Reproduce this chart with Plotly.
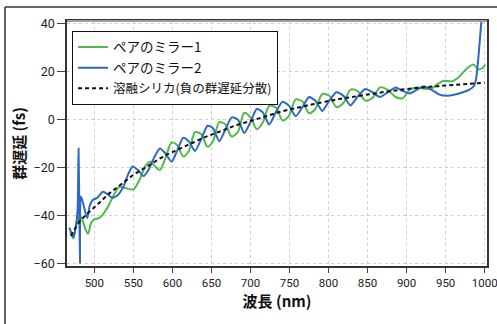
import plotly.graph_objects as go

# ---- data ----
silica_wl = [470, 480, 490, 500, 510, 520, 530, 540, 550, 560, 570, 580, 590, 600,
             620, 640, 660, 680, 700, 720, 740, 760, 780, 800, 820, 840, 860, 880,
             900, 920, 940, 960, 980, 1000]
silica_gd = [-48.5, -43, -39.5, -36.5, -33.5, -30.5, -28, -25.5, -23, -21, -19, -17, -15, -13.5,
             -10.5, -7.5, -5, -2.5, -0.5, 1.5, 3.5, 5, 6.5, 7.8, 9, 10, 11, 12,
             12.8, 13.5, 14, 14.5, 15, 15.5]

mirror2_wl = [468, 471, 473.5, 476, 478.5, 479.8, 480.8, 481.6, 482.6, 485, 488, 491, 494, 498,
              504, 511, 517, 523, 530, 537, 543, 549, 556, 563, 570, 577, 584, 591, 599,
              606, 614, 621, 629, 637, 645, 652, 660, 668, 676, 684, 692, 700, 708, 716,
              724, 733, 741, 749, 758, 767, 775, 783, 792, 801, 810, 819, 828, 837, 847,
              856, 866, 876, 886, 895, 904, 913, 922, 932, 942, 952, 962, 972, 980, 986,
              989, 992, 995, 997]
mirror2_gd = [-45, -47.5, -49, -45, -38, -12, -38, -60, -32, -34, -38, -41, -36, -33.5,
              -32.5, -30, -31, -32.5, -31.5, -28, -23, -19.5, -21, -23.5, -20.5, -15.5, -12, -14, -17.5,
              -13, -7.5, -9, -13, -8, -2.5, -3.5, -9, -4, 1, 0, -5.5, -1, 4.5, 3,
              -2, 3.5, 7.5, 6, 1.5, 5.5, 9.5, 8, 3.7, 8, 11.5, 10, 6, 9.5, 12.8,
              11.5, 9.5, 11.5, 13.5, 12, 11, 12.5, 14, 12.5, 10.5, 10, 10.5, 11.5, 12.5, 14,
              17, 26, 38, 46]

mirror1_wl = [469, 471, 473, 476, 479, 481, 485, 489, 492, 496, 500, 506, 512, 518, 524,
              532, 540, 550, 558, 566, 572, 578, 584, 591, 599, 606, 614, 621, 629, 637,
              645, 652, 660, 668, 676, 684, 692, 700, 708, 716, 724, 733, 741, 749, 758,
              767, 775, 783, 792, 801, 810, 819, 828, 837, 847, 856, 866, 876, 886, 895,
              904, 913, 922, 932, 940, 948, 958, 966, 976, 986, 992, 997, 1001]
mirror1_gd = [-47, -48, -49.5, -45, -42, -40, -42, -46, -47.5, -43, -41.5, -41, -39, -36, -32,
              -28, -28.5, -29, -25, -19, -17.5, -19.5, -21, -16, -9.5, -10.5, -15.3, -13, -5.2, -6,
              -11.3, -9, -1, -2, -7, -5, 2.9, 1, -3.9, -1, 5.8, 5, -0.3, 1.5, 8.5,
              7.5, 2.7, 4.5, 10.7, 10, 5.3, 7, 12.5, 12, 8, 9, 13.5, 12.5, 9.5, 9,
              12.5, 13.5, 13, 13, 15, 16.3, 16, 17.5, 21, 23, 21, 21.5, 23]

series_names = ["ペアのミラー1", "ペアのミラー2", "溶融シリカ(負の群遅延分散)"]
x_ticks = [500, 550, 600, 650, 700, 750, 800, 850, 900, 950, 1000]
y_ticks = [-60, -40, -20, 0, 20, 40]
x_title = "波長 (nm)"
y_title = "群遅延 (fs)"

FONT = "Noto Sans CJK JP, Noto Sans, sans-serif"
NUMFONT = "Roboto, Noto Sans, sans-serif"

fig = go.Figure()
fig.add_trace(go.Scatter(x=mirror1_wl, y=mirror1_gd, mode="lines", name=series_names[0],
                         line=dict(color="#52b84a", width=2, shape="spline", smoothing=0.8)))
fig.add_trace(go.Scatter(x=mirror2_wl, y=mirror2_gd, mode="lines", name=series_names[1],
                         line=dict(color="#2f68c0", width=2, shape="spline", smoothing=0.6)))
fig.add_trace(go.Scatter(x=silica_wl, y=silica_gd, mode="lines",
                         name="<span style='font-size:12.5px'>" + series_names[2] + "</span>",
                         line=dict(color="#111111", width=2, dash="4px,3px", shape="spline")))

fig.update_layout(
    width=497, height=324,
    margin=dict(l=67, r=10, t=21, b=58),
    paper_bgcolor="white", plot_bgcolor="white",
    font=dict(family=FONT, color="#222", size=12),
    showlegend=True,
    legend=dict(x=0.012, y=0.96, xanchor="left", yanchor="top",
                bgcolor="white", bordercolor="#111", borderwidth=1,
                font=dict(size=13.5, color="#111"), itemwidth=30,
                tracegroupgap=0),
    xaxis=dict(range=[465, 1003], tickvals=x_ticks, ticks="outside", ticklen=5,
               tickcolor="#444", showline=True, linecolor="#333", linewidth=1.5, mirror=True,
               showgrid=True, gridcolor="#cfcfcf", griddash="dot", gridwidth=1,
               zeroline=False, automargin=False, ticklabeloverflow="allow",
               tickfont=dict(family=NUMFONT, size=11.5, color="#222"),
               title=dict(text="<b>" + x_title + "</b>", font=dict(size=15, color="#111"), standoff=4)),
    yaxis=dict(range=[-61, 41.2], tickvals=y_ticks, ticks="outside", ticklen=8,
               tickcolor="#444", showline=True, linecolor="#333", linewidth=1.5, mirror=True,
               showgrid=True, gridcolor="#cfcfcf", griddash="dot", gridwidth=1,
               zeroline=False, automargin=False,
               tickfont=dict(family=NUMFONT, size=12.5, color="#222"),
               title=dict(text="<b>" + y_title + "</b>", font=dict(size=15, color="#111"), standoff=4)),
)

# top plot border in gray, outer frame lines (left and top)
fig.add_shape(type="line", xref="paper", yref="paper", x0=0, x1=1, y0=1, y1=1,
              line=dict(color="#a0a0a0", width=2))
fig.add_shape(type="line", xref="paper", yref="paper",
              x0=(5 - 67) / 420, x1=(497 - 67) / 420, y0=1 + (21 - 7) / 245, y1=1 + (21 - 7) / 245,
              line=dict(color="#333", width=1.5))
fig.add_shape(type="line", xref="paper", yref="paper",
              x0=(5 - 67) / 420, x1=(5 - 67) / 420, y0=1 + (21 - 7) / 245, y1=-(324 - 266) / 245,
              line=dict(color="#333", width=1.5))

fig.write_html("out.html", config={"displayModeBar": False},
               post_script="document.body.style.margin='0px';")
